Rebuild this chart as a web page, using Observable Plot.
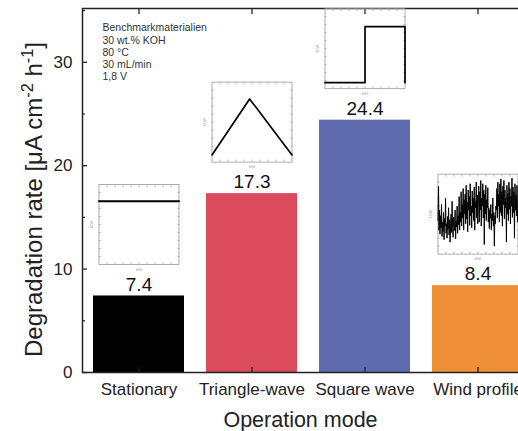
<!DOCTYPE html>
<html>
<head>
<meta charset="utf-8">
<script src="https://cdn.jsdelivr.net/npm/d3@7"></script>
<script src="https://cdn.jsdelivr.net/npm/@observablehq/plot@0.6"></script>
<style>
  html, body { margin: 0; padding: 0; background: white; }
  #chart { width: 518px; height: 431px; overflow: hidden; }
</style>
</head>
<body>
<div id="chart"></div>
<script>
// ---- data ----
const modes = ["Stationary", "Triangle-wave", "Square wave", "Wind profile"];
const rates = [7.4, 17.3, 24.4, 8.4];
const barColors = ["#000000", "#dc4b5d", "#5f6db0", "#ef9038"];
const yTicks = [0, 10, 20, 30];
const yMinorTicks = [5, 15, 25, 35];
const notes = ["Benchmarkmaterialien", "30 wt.% KOH", "80 °C", "30 mL/min", "1,8 V"];
const xTitle = "Operation mode";
const yTitle = "Degradation rate [μA cm-2 h-1]";

// inset profiles (normalised time t, normalised voltage u)
const statT = [0, 1];
const statU = [0.79, 0.79];
const triT = [0, 0.47, 1];
const triU = [0.09, 0.79, 0.09];
const sqT = [0, 0.5, 0.5, 1, 1];
const sqU = [0.075, 0.075, 0.775, 0.775, 0.075];
const windU = [
  0.42,0.85,0.30,0.55,0.25,0.48,0.33,0.62,0.22,0.40,0.28,0.52,0.18,0.45,0.35,0.70,0.26,0.38,0.20,0.47,
  0.31,0.58,0.24,0.43,0.15,0.36,0.50,0.27,0.66,0.33,0.21,0.46,0.38,0.29,0.55,0.19,0.41,0.34,0.60,0.26,
  0.48,0.37,0.72,0.30,0.52,
  0.40,0.78,0.35,0.62,0.45,0.82,0.30,0.68,0.50,0.75,0.38,0.86,0.44,0.65,0.28,0.80,0.55,0.72,0.36,0.88,
  0.48,0.60,0.33,0.79,0.52,0.70,0.42,0.84,0.30,0.66,0.58,0.90,0.45,0.74,0.38,
  0.62,0.85,0.40,0.78,0.55,0.92,0.35,0.70,0.60,0.88,0.45,0.80,0.12,0.75,0.50,0.86,0.42,0.68,0.58,0.83,
  0.40,0.58,0.32,0.55,0.45,0.62,0.30,0.50,0.42,0.70,0.35,0.52,0.10,0.48,0.38,0.60,
  0.55,0.82,0.45,0.90,0.60,0.75,0.40,0.88,0.52,0.94,0.48,0.78,0.35,0.85,0.62,0.92,0.44,0.80,0.58,0.70,
  0.15,0.86,0.50,0.76,0.42,0.90,0.56,0.82,0.38,0.72,0.60,0.95,0.46,0.84,0.52,0.78,0.20,0.88,0.55,0.74,
  0.48,0.86,0.40,0.68
];
const insetTicks = [0.1, 0.2, 0.3, 0.4, 0.5, 0.6, 0.7, 0.8, 0.9];

const FONT = "'Liberation Sans', Arial, Helvetica, sans-serif";
const table = modes.map((m, i) => ({mode: m, rate: rates[i], color: barColors[i]}));

const main = Plot.plot({
  width: 518,
  height: 431,
  marginLeft: 82,
  marginTop: 8,
  marginBottom: 59,
  marginRight: -16,
  style: {fontFamily: FONT, color: "#222", background: "white", overflow: "hidden"},
  x: {domain: modes, paddingInner: 0.195, paddingOuter: 0.0975, label: null},
  y: {domain: [0, 35.2], label: null},
  color: {type: "identity"},
  marks: [
    Plot.barY(table, {x: "mode", y: "rate", fill: "color"}),
    Plot.text(table, {x: "mode", y: "rate", text: d => d.rate.toFixed(1), dy: -11.5, lineAnchor: "middle", fontSize: 19, fill: "#111"}),
    Plot.frame({stroke: "#222", strokeWidth: 1.5}),
    Plot.axisY(yTicks, {tickSize: -5, tickPadding: 15, fontSize: 17, stroke: "#222", strokeWidth: 1.3, fill: "#222", label: null}),
    Plot.axisY(yMinorTicks, {tickSize: -3, tickFormat: () => "", stroke: "#222", strokeWidth: 1.2, label: null}),
    Plot.axisX({anchor: "bottom", tickSize: -5, tickPadding: 15, fontSize: 17, stroke: "#222", strokeWidth: 1.3, fill: "#222", label: null}),
    Plot.axisX({anchor: "top", tickSize: -5, tickFormat: () => "", stroke: "#222", strokeWidth: 1.3, label: null}),
    Plot.text([xTitle], {frameAnchor: "bottom", dx: -8, dy: 47.5, lineAnchor: "middle", textAnchor: "middle", fontSize: 21.5, fill: "#222"}),
    Plot.text([yTitle], {frameAnchor: "left", rotate: -90, dx: -48, dy: 9, lineAnchor: "middle", textAnchor: "middle", fontSize: 24, fill: "#222"}),
    Plot.text([notes.join("\n")], {frameAnchor: "top-left", textAnchor: "start", lineAnchor: "top", dx: 20, dy: 14, fontSize: 10.5, lineHeight: 1.17, fill: "#333"})
  ]
});

// superscripts in the y title
main.querySelectorAll("text").forEach(t => {
  if (t.textContent === yTitle) {
    const target = t.querySelector("tspan") || t;
    target.innerHTML = 'Degradation rate [μA cm<tspan baseline-shift="super" style="font-size:0.68em">-2</tspan> h<tspan baseline-shift="super" style="font-size:0.68em">-1</tspan>]';
  }
});

function inset(t, u, strokeWidth) {
  const pts = u.map((v, i) => ({t: t ? t[i] : i / (u.length - 1), u: v}));
  return Plot.plot({
    width: 90, height: 88,
    marginLeft: 10, marginBottom: 8, marginTop: 0, marginRight: 0,
    style: {fontFamily: FONT, background: "transparent", overflow: "visible"},
    x: {domain: [0, 1], axis: null},
    y: {domain: [0, 1], axis: null},
    marks: [
      Plot.frame({stroke: "#9a9a9a", strokeWidth: 0.8}),
      Plot.axisX(insetTicks, {anchor: "bottom", tickSize: -2, tickFormat: () => "", stroke: "#9a9a9a", strokeWidth: 0.7, label: null}),
      Plot.axisX(insetTicks, {anchor: "top", tickSize: -2, tickFormat: () => "", stroke: "#9a9a9a", strokeWidth: 0.7, label: null}),
      Plot.axisY(insetTicks, {anchor: "left", tickSize: -2, tickFormat: () => "", stroke: "#9a9a9a", strokeWidth: 0.7, label: null}),
      Plot.axisY(insetTicks, {anchor: "right", tickSize: -2, tickFormat: () => "", stroke: "#9a9a9a", strokeWidth: 0.7, label: null}),
      Plot.line(pts, {x: "t", y: "u", stroke: "#000", strokeWidth}),
      Plot.text(["U(V)"], {frameAnchor: "left", rotate: -90, dx: -7, textAnchor: "middle", lineAnchor: "middle", fontSize: 4, fill: "#888"}),
      Plot.text(["t(h)"], {frameAnchor: "bottom", dy: 5, textAnchor: "middle", lineAnchor: "middle", fontSize: 4, fill: "#888"})
    ]
  });
}

const insets = [
  inset(statT, statU, 2),
  inset(triT, triU, 1.7),
  inset(sqT, sqU, 1.7),
  inset(null, windU, 1.0)
];

const xs = main.scale("x");
const ys = main.scale("y");
insets.forEach((svg, i) => {
  const cx = xs.apply(modes[i]) + xs.bandwidth / 2;
  const boxBottom = ys.apply(rates[i]) - 31.5;
  const g = document.createElementNS("http://www.w3.org/2000/svg", "g");
  ["class", "fill", "font-family", "font-size", "text-anchor"].forEach(a => {
    if (svg.hasAttribute(a)) g.setAttribute(a, svg.getAttribute(a));
  });
  g.setAttribute("transform", `translate(${cx - 40 - 10},${boxBottom - 80})`);
  while (svg.firstChild) g.appendChild(svg.firstChild);
  main.appendChild(g);
});

document.getElementById("chart").appendChild(main);
</script>
</body>
</html>
